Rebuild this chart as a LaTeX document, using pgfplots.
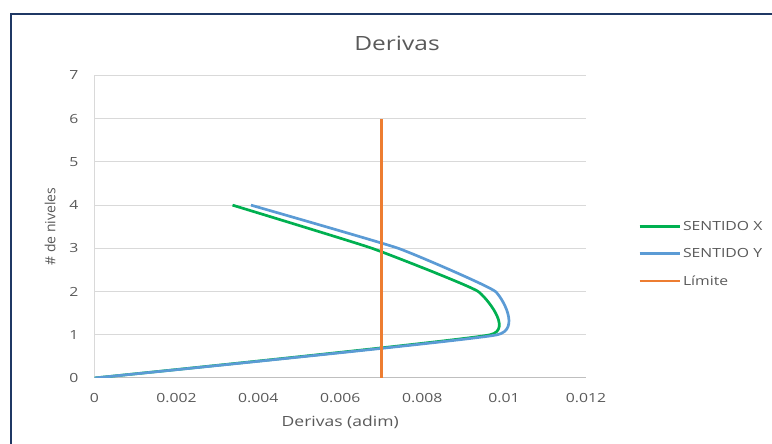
\documentclass[border=0pt]{standalone}
\usepackage{fontspec}
\setmainfont{Open Sans}[FakeStretch=1.25]
\newfontfamily\rotfont{Open Sans}
\usepackage{pgfplots}
\pgfplotsset{compat=1.18}
\definecolor{txtgray}{HTML}{595959}
\definecolor{gridgray}{HTML}{D9D9D9}
\definecolor{axisgray}{HTML}{BFBFBF}
\definecolor{serX}{HTML}{00B050}
\definecolor{serY}{HTML}{5B9BD5}
\definecolor{limc}{HTML}{ED7D31}
\definecolor{framec}{HTML}{1F3864}

\begin{document}
\begin{tikzpicture}[x=1bp,y=1bp]
\useasboundingbox (0,0) rectangle (772,444);
% chart frame
\draw[framec, line width=2.2bp] (11,-1) -- (11,430) -- (773,430);
% chart title
\node[font=\fontsize{19.6bp}{22bp}\selectfont, text=txtgray, inner sep=0pt] at (397,401) {Derivas};
\begin{axis}[
  at={(94.5bp,66bp)}, anchor=south west,
  width=491.5bp, height=302.5bp, scale only axis,
  xmin=0, xmax=0.012, ymin=0, ymax=7,
  axis x line=bottom, axis y line=left,
  axis line style={-},
  separate axis lines,
  x axis line style={axisgray, line width=1bp},
  y axis line style={gridgray, line width=1bp},
  xtick={0,0.002,0.004,0.006,0.008,0.01,0.012},
  xticklabels={0,0.002,0.004,0.006,0.008,0.01,0.012},
  scaled x ticks=false,
  ytick={0,1,2,3,4,5,6,7},
  yticklabels={0,1,2,3,4,5,6,7},
  major tick length=0pt,
  ymajorgrids, grid style={gridgray, line width=1bp},
  tick label style={font=\fontsize{12.6bp}{14bp}\selectfont, text=txtgray},
  xticklabel style={anchor=north, inner sep=0pt, yshift=-15bp},
  yticklabel style={anchor=east, inner sep=0pt, xshift=-16bp},
  xlabel={Derivas (adim)},
  xlabel style={at={(axis description cs:0.5,0)}, anchor=center, yshift=-44bp,
    font=\fontsize{14bp}{16bp}\selectfont, text=txtgray},
  ylabel={\# de niveles},
  ylabel style={at={(axis description cs:0,0.5)}, anchor=center, yshift=44.5bp,
    font=\rotfont\fontsize{14bp}{16bp}\selectfont, text=txtgray},
  legend style={draw=none, fill=none, at={(1.100,0.41)}, anchor=west,
    font=\fontsize{12.6bp}{14bp}\selectfont, text=txtgray, row sep=16.5bp,
    /tikz/every odd column/.append style={column sep=0pt},
    nodes={inner xsep=2bp, inner ysep=0pt}},
  legend cell align=left,
  legend image code/.code={\draw[#1] (0bp,0bp) -- (40bp,0bp);},
]
\addplot[serX, line width=2.7bp, smooth, tension=0.22] coordinates {
  (0,0) (0.00966,1) (0.00937,2) (0.00678,3) (0.00337,4)};
\addlegendentry{SENTIDO X}
\addplot[serY, line width=2.7bp, smooth, tension=0.22] coordinates {
  (0,0) (0.00983,1) (0.00979,2) (0.00742,3) (0.00382,4)};
\addlegendentry{SENTIDO Y}
\addplot[limc, line width=2.7bp] coordinates {(0.007,0) (0.007,6)};
\addlegendentry{Límite}
\end{axis}
\end{tikzpicture}
\end{document}
